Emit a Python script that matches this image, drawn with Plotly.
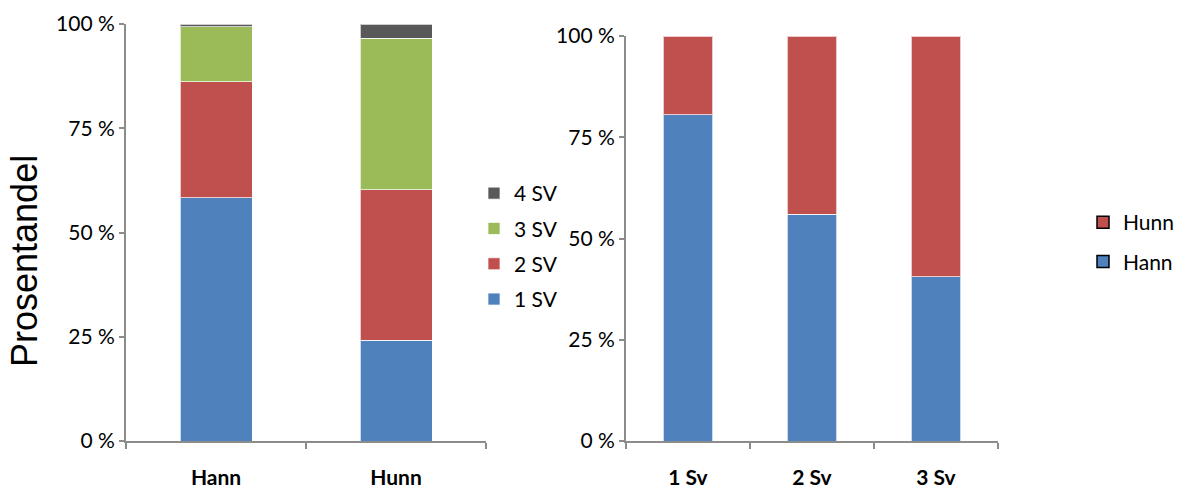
import plotly.graph_objects as go

# Left panel: share of each SV count by gender
gender_cats = ["Hann", "Hunn"]
sv1 = [0.583, 0.242]
sv2 = [0.278, 0.360]
sv3 = [0.132, 0.364]
sv4 = [0.007, 0.034]
sv_names = ["1 SV", "2 SV", "3 SV", "4 SV"]

# Right panel: gender share within each SV count
sv_cats = ["1 Sv", "2 Sv", "3 Sv"]
hann = [0.805, 0.560, 0.405]
hunn = [0.195, 0.440, 0.595]

pct_vals = [0, 0.25, 0.5, 0.75, 1.0]
pct_text = ["0 %", "25 %", "50 %", "75 %", "100 %"]

BLUE = "#4F81BD"
RED = "#C0504D"
GREEN = "#9BBB59"
GREY = "#595959"
AXIS = "#8C8C8C"

W, H = 1182, 491
FONT = "Lato, Open Sans, sans-serif"

fig = go.Figure()

seg_line = dict(color="rgba(255,255,255,0.7)", width=1)
n_sv = len(sv_names)
for i, (name, vals, col) in enumerate(zip(sv_names, [sv1, sv2, sv3, sv4], [BLUE, RED, GREEN, GREY])):
    fig.add_trace(go.Bar(
        x=gender_cats, y=vals, name=name, marker=dict(color=col, line=seg_line),
        xaxis="x", yaxis="y", legend="legend", legendgroup=name,
        legendrank=n_sv - i,
    ))

# Right panel bars; legend entries drawn with outlined swatches
for rank, (name, vals, col) in zip([2, 1], [("Hann", hann, BLUE), ("Hunn", hunn, RED)]):
    fig.add_trace(go.Bar(
        x=sv_cats, y=vals, name=name, marker=dict(color=col, line=seg_line),
        xaxis="x2", yaxis="y2", showlegend=False,
    ))
    fig.add_trace(go.Bar(
        x=[None], y=[None], name=name,
        marker=dict(color=col, line=dict(color="#000000", width=1.5)),
        xaxis="x2", yaxis="y2", legend="legend2", legendgroup="r" + name,
        legendrank=rank,
    ))

tick_font = dict(family=FONT, size=21, color="#000000")
cat_font = dict(family=FONT, size=21, color="#000000", weight="bold")

def yax(domain):
    return dict(
        domain=domain, range=[0, 1], tickvals=pct_vals, ticktext=pct_text,
        showgrid=False, zeroline=False, showline=True, linecolor=AXIS, linewidth=2,
        ticks="outside", ticklen=5, tickwidth=2, tickcolor=AXIS, tickfont=tick_font,
        fixedrange=True, automargin=False,
    )

def xax(domain, anchor, n):
    return dict(
        domain=domain, anchor=anchor, range=[-0.5, n - 0.5], type="category",
        showgrid=False, showline=True, linecolor=AXIS, linewidth=2,
        ticks="outside", ticklen=6, tickwidth=2, tickcolor=AXIS, tickson="boundaries",
        tickfont=cat_font, ticklabelstandoff=17, fixedrange=True, automargin=False,
    )

fig.update_layout(
    width=W, height=H,
    margin=dict(l=0, r=0, t=0, b=0, autoexpand=False),
    paper_bgcolor="white", plot_bgcolor="white",
    barmode="stack", bargap=0.6,
    xaxis=xax([126 / W, 486 / W], "y", 2),
    yaxis=yax([1 - 441 / H, 1 - 24 / H]),
    xaxis2=xax([626 / W, 998 / W], "y2", 3),
    yaxis2=dict(yax([1 - 441 / H, 1 - 36 / H]), anchor="x2"),
    legend=dict(
        x=474 / W, y=1 - 173 / H, xanchor="left", yanchor="top",
        traceorder="grouped", tracegroupgap=5,
        font=dict(family=FONT, size=21, color="#000000"),
        bgcolor="rgba(0,0,0,0)",
    ),
    legend2=dict(
        x=1083 / W, y=1 - 202 / H, xanchor="left", yanchor="top",
        traceorder="grouped", tracegroupgap=9,
        font=dict(family=FONT, size=21, color="#000000"),
        bgcolor="rgba(0,0,0,0)",
    ),
    annotations=[dict(
        text="Prosentandel", x=24 / W, y=1 - 261 / H, xref="paper", yref="paper",
        textangle=-90, showarrow=False, xanchor="center", yanchor="middle",
        font=dict(family="Liberation Sans, Arial, sans-serif", size=36, color="#000000"),
    )],
)

fig.write_html("out.html")
